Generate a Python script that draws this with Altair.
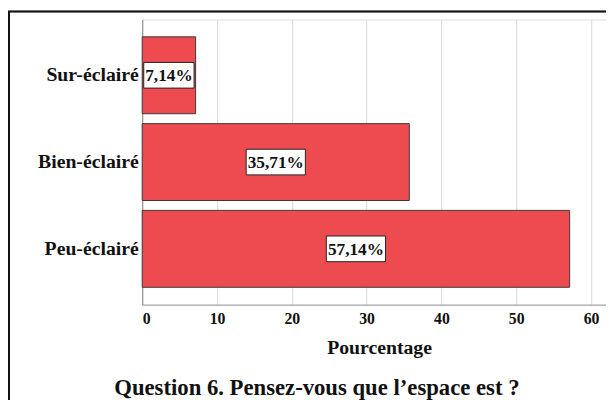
import altair as alt
import pandas as pd

categories = ["Sur-éclairé", "Bien-éclairé", "Peu-éclairé"]
values = [7.14, 35.71, 57.14]
labels = ["7,14%", "35,71%", "57,14%"]
x_ticks = [0, 10, 20, 30, 40, 50, 60]
chart_title = "Question 6. Pensez-vous que l’espace est ?"

df = pd.DataFrame({"cat": categories, "value": values, "label": labels})

FONT = "Liberation Serif"
W, H = 470, 289
X_MAX = 62
PX_PER_UNIT = W / X_MAX

xscale = alt.Scale(domain=[0, X_MAX], nice=False, zero=True)
yscale = alt.Scale(domain=categories, paddingInner=0.114, paddingOuter=0.2)

base = alt.Chart(df)

bars = base.mark_bar(fill="#EE4B50", stroke="#3a3a3a", strokeWidth=1).encode(
    x=alt.X("value:Q", scale=xscale,
            axis=alt.Axis(values=x_ticks, title="Pourcentage", grid=True,
                          gridColor="#d9d9d9", ticks=False, domainColor="#9a9a9a",
                          labelFont=FONT, labelFontWeight="bold", labelFontSize=16,
                          labelColor="#111", labelPadding=6,
                          titleFont=FONT, titleFontWeight="bold", titleFontSize=20,
                          titleColor="#111", titlePadding=11, titleX=240)),
    y=alt.Y("cat:N", scale=yscale, sort=categories,
            axis=alt.Axis(title=None, ticks=False, domainColor="#8a8a8a",
                          labelFont=FONT, labelFontWeight="bold", labelFontSize=20,
                          labelColor="#111", labelPadding=4)),
)

boxes = base.transform_calculate(
    mid="datum.value / 2",
    half=f"(4.5 * length(datum.label) + 3) / {PX_PER_UNIT}",
    x0="datum.mid - datum.half",
    x1="datum.mid + datum.half",
).mark_bar(fill="white", stroke="#222", strokeWidth=1, height=26).encode(
    x=alt.X("x0:Q", scale=xscale),
    x2="x1:Q",
    y=alt.Y("cat:N", scale=yscale, sort=categories),
)

texts = base.transform_calculate(mid="datum.value / 2").mark_text(
    font=FONT, fontWeight="bold", fontSize=17.5, color="#111", baseline="middle", dy=1
).encode(
    x=alt.X("mid:Q", scale=xscale),
    y=alt.Y("cat:N", scale=yscale, sort=categories),
    text="label:N",
)

frame = alt.Chart(df).mark_rect(fill=None, stroke="#111", strokeWidth=1.5, clip=False).encode(
    x=alt.value(-135), x2=alt.value(500), y=alt.value(-8), y2=alt.value(420)
)

title_text = alt.Chart(pd.DataFrame({"t": [chart_title]})).mark_text(
    font=FONT, fontWeight="bold", fontSize=23, color="#111",
    align="center", baseline="alphabetic", clip=False,
).encode(x=alt.value(177), y=alt.value(381), text="t:N")

chart = alt.layer(bars, boxes, texts, frame, title_text).properties(
    width=W, height=H,
    autosize=alt.AutoSizeParams(type="none"),
    padding={"left": 136, "top": 9, "right": 0, "bottom": 94},
).configure_view(stroke=None).configure(background="white")

chart.save("out.html", embed_options={"renderer": "svg", "actions": False})
